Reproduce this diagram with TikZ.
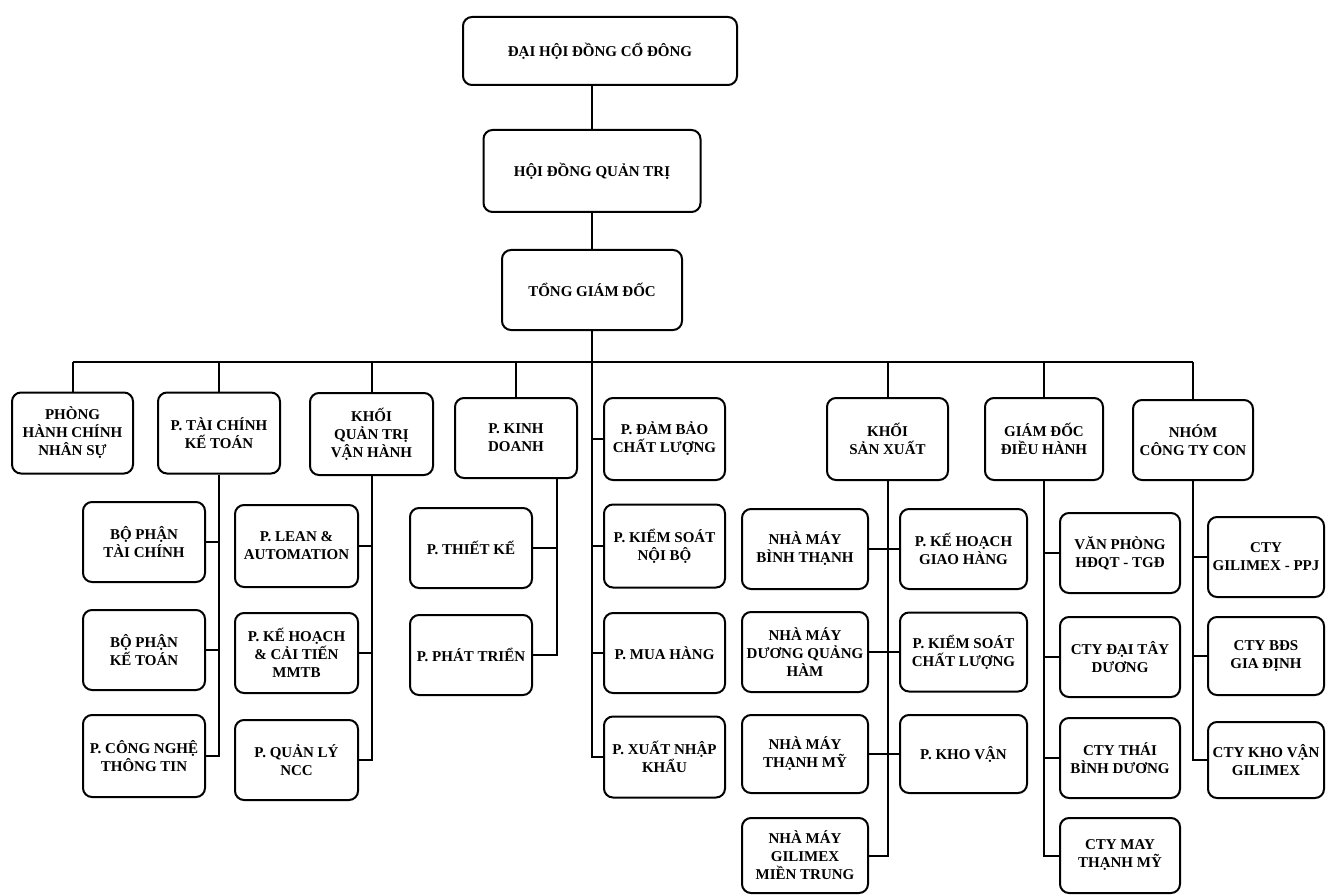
\documentclass[tikz,border=0pt]{standalone}
\usepackage{fontspec}
\setmainfont{Liberation Serif}
\begin{document}
\begin{tikzpicture}[x=1pt,y=-1pt,
  box/.style={draw=black, line width=2pt, rounded corners=9pt, fill=white,
    align=center, inner sep=2pt, minimum width=122pt, minimum height=80pt,
    font=\fontsize{15}{18}\selectfont\bfseries},
  conn/.style={draw=black, line width=2pt},
  busline/.style={draw=black, line width=2.6pt}]
\useasboundingbox (0,0) rectangle (1326,896);
% top
\node[box, minimum width=274pt, minimum height=68pt] (dhcd) at (600,51) {ĐẠI HỘI ĐỒNG CỔ ĐÔNG};
\node[box, minimum width=217pt, minimum height=82pt] (hdqt) at (592,171) {HỘI ĐỒNG QUẢN TRỊ};
\node[box, minimum width=180pt] (tgd) at (592,290) {TỔNG GIÁM ĐỐC};
% level 2
\node[box, minimum width=121pt, minimum height=81pt] (pchc) at (72.5,433) {PHÒNG\\HÀNH CHÍNH\\NHÂN SỰ};
\node[box, minimum height=81pt] (tc) at (219,433) {P. TÀI CHÍNH\\KẾ TOÁN};
\node[box, minimum width=123pt, minimum height=82pt] (kqt) at (371.5,434) {KHỐI\\QUẢN TRỊ\\VẬN HÀNH};
\node[box] (kd) at (516,438) {P. KINH\\DOANH};
\node[box, minimum width=121pt, minimum height=82pt] (dbcl) at (664.5,439) {P. ĐẢM BẢO\\CHẤT LƯỢNG};
\node[box, minimum width=121pt, minimum height=82pt] (sx) at (887.5,439) {KHỐI\\SẢN XUẤT};
\node[box, minimum width=118pt, minimum height=82pt] (gddh) at (1044,439) {GIÁM ĐỐC\\ĐIỀU HÀNH};
\node[box, minimum width=120pt] (nctc) at (1193,440) {NHÓM\\CÔNG TY CON};
% TC children
\node[box] (bptc) at (144,542) {BỘ PHẬN\\TÀI CHÍNH};
\node[box] (bpkt) at (144,650) {BỘ PHẬN\\KẾ TOÁN};
\node[box, minimum height=82pt] (cntt) at (144,756) {P. CÔNG NGHỆ\\THÔNG TIN};
% KQT children
\node[box, minimum width=123pt, minimum height=82pt] (lean) at (296.5,546) {P. LEAN \&\\AUTOMATION};
\node[box, minimum width=123pt] (khct) at (296.5,653) {P. KẾ HOẠCH\\\& CẢI TIẾN\\MMTB};
\node[box, minimum width=123pt] (qlncc) at (296.5,760) {P. QUẢN LÝ\\NCC};
% KD children
\node[box] (tk) at (471,548) {P. THIẾT KẾ};
\node[box] (pt) at (471,655) {P. PHÁT TRIỂN};
% TGD direct children
\node[box, minimum width=121pt, minimum height=83pt] (ksnb) at (664.5,546) {P. KIỂM SOÁT\\NỘI BỘ};
\node[box, minimum width=121pt] (mh) at (664.5,653) {P. MUA HÀNG};
\node[box, minimum width=121pt, minimum height=81pt] (xnk) at (664.5,757) {P. XUẤT NHẬP\\KHẨU};
% SX children
\node[box, minimum width=126pt] (nmbt) at (805,549) {NHÀ MÁY\\BÌNH THẠNH};
\node[box, minimum width=126pt] (nmdqh) at (805,652) {NHÀ MÁY\\DƯƠNG QUẢNG\\HÀM};
\node[box, minimum width=126pt, minimum height=78pt] (nmtm) at (805,754) {NHÀ MÁY\\THẠNH MỸ};
\node[box, minimum width=126pt, minimum height=75pt] (nmgmt) at (805,855.5) {NHÀ MÁY\\GILIMEX\\MIỀN TRUNG};
\node[box, minimum width=127pt] (khgh) at (963.5,549) {P. KẾ HOẠCH\\GIAO HÀNG};
\node[box, minimum width=127pt, minimum height=79pt] (kscl) at (963.5,652) {P. KIỂM SOÁT\\CHẤT LƯỢNG};
\node[box, minimum width=127pt, minimum height=78pt] (kv) at (963.5,754) {P. KHO VẬN};
% GDDH children
\node[box, minimum width=120pt] (vp) at (1120,553) {VĂN PHÒNG\\HĐQT - TGĐ};
\node[box, minimum width=120pt] (dtd) at (1120,657) {CTY ĐẠI TÂY\\DƯƠNG};
\node[box, minimum width=120pt] (tbd) at (1120,758) {CTY THÁI\\BÌNH DƯƠNG};
\node[box, minimum width=120pt, minimum height=75pt] (maytm) at (1120,855.5) {CTY MAY\\THẠNH MỸ};
% NCTC children
\node[box, minimum width=116pt] (ppj) at (1266,557) {CTY\\GILIMEX - PPJ};
\node[box, minimum width=116pt, minimum height=78pt] (bds) at (1266,656) {CTY BĐS\\GIA ĐỊNH};
\node[box, minimum width=116pt, minimum height=76pt] (kvg) at (1266,760) {CTY KHO VẬN\\GILIMEX};
% connectors top
\draw[conn] (dhcd.south -| hdqt.north) -- (hdqt.north);
\draw[conn] (hdqt.south) -- (tgd.north);
\coordinate (bus) at (0,362);
\draw[busline] (pchc.north |- bus) -- (nctc.north |- bus);
\foreach \n in {pchc,tc,kqt,kd,sx,gddh,nctc}
  \draw[conn] (\n.north) -- (\n.north |- bus);
\draw[conn] (tgd.south) |- (xnk.west);
\foreach \n in {dbcl,ksnb,mh} \draw[conn] (\n.west) -- (\n.west -| tgd.south);
% TC
\draw[conn] (tc.south) |- (cntt.east);
\foreach \n in {bptc,bpkt} \draw[conn] (\n.east) -- (\n.east -| tc.south);
% KQT
\draw[conn] (kqt.south) |- (qlncc.east);
\foreach \n in {lean,khct} \draw[conn] (\n.east) -- (\n.east -| kqt.south);
% KD
\coordinate (kdv) at ([xshift=41pt]kd.south);
\draw[conn] (kdv) |- (pt.east);
\draw[conn] (tk.east) -- (tk.east -| kdv);
% SX
\draw[conn] (sx.south) |- (nmgmt.east);
\draw[conn] (nmbt.east) -- (khgh.west);
\draw[conn] (nmdqh.east) -- (kscl.west);
\draw[conn] (nmtm.east) -- (kv.west);
% GDDH
\draw[conn] (gddh.south) |- (maytm.west);
\foreach \n in {vp,dtd,tbd} \draw[conn] (\n.west) -- (\n.west -| gddh.south);
% NCTC
\draw[conn] (nctc.south) |- (kvg.west);
\foreach \n in {ppj,bds} \draw[conn] (\n.west) -- (\n.west -| nctc.south);
\end{tikzpicture}
\end{document}
